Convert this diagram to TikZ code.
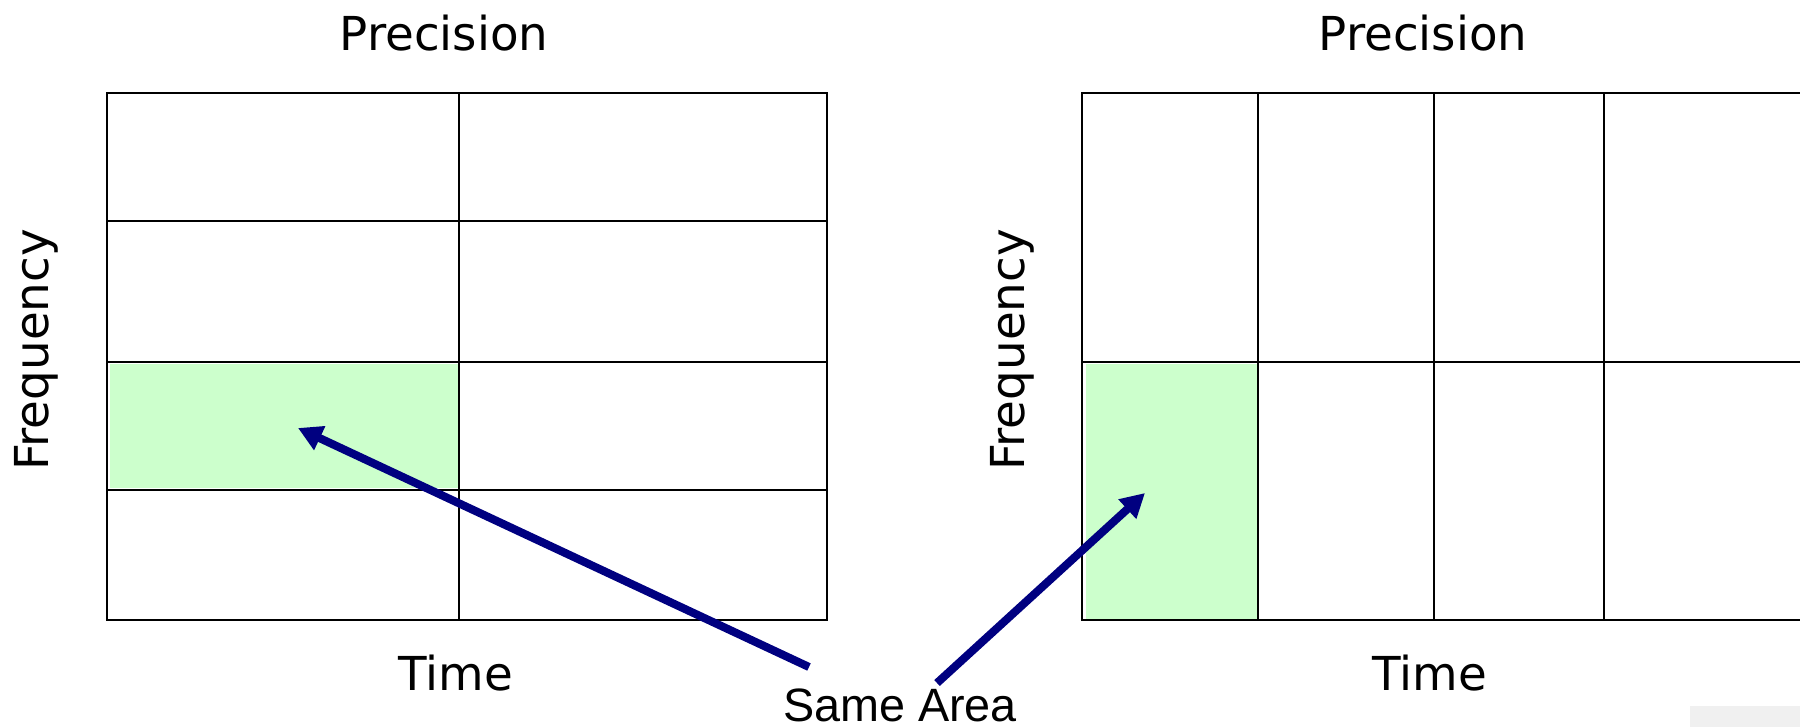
\documentclass[tikz,border=0pt]{standalone}
\usepackage{fontspec}
\setmainfont{DejaVu Sans}
\newfontfamily\arialfont{Liberation Sans}
\usetikzlibrary{arrows.meta}
\definecolor{cellgreen}{RGB}{204,255,204}
\definecolor{arrowblue}{RGB}{0,0,128}
\tikzset{
  lbl/.style={font=\fontsize{13.3pt}{16pt}\selectfont, inner sep=0pt, anchor=base},
  gridline/.style={draw=black, line width=0.6pt},
  frameline/.style={draw=black, line width=0.8pt},
  pointer/.style={draw=arrowblue, line width=2.3pt, -{Triangle[length=0.24cm,width=0.25cm]}},
}
\begin{document}
\begin{tikzpicture}[x=0.01cm,y=-0.01cm]
\useasboundingbox (0,0) rectangle (1800,727);
% faint texture patch bottom right
\fill[gray!12] (1690,706) rectangle (1800,727);
% ---------- left panel ----------
\fill[cellgreen] (110,364) rectangle (459,488);
\draw[gridline] (459,93) -- (459,620);
\draw[gridline] (107,221) -- (827,221);
\draw[gridline] (107,362) -- (827,362);
\draw[gridline] (107,490) -- (827,490);
\draw[frameline] (107,93) rectangle (827,620);
\node[lbl] (precL) at (444,50) {Precision};
\node[lbl] (timeL) at (456,690) {Time};
\node[lbl, rotate=90] (freqL) at (48,350) {Frequency};
% ---------- right panel ----------
\fill[cellgreen] (1086,364) rectangle (1258,620);
\draw[gridline] (1258,93) -- (1258,620);
\draw[gridline] (1434,93) -- (1434,620);
\draw[gridline] (1604,93) -- (1604,620);
\draw[gridline] (1082,362) -- (1802,362);
\draw[frameline] (1802,620) -- (1082,620) -- (1082,93) -- (1802,93);
\node[lbl] (precR) at (1423,50) {Precision};
\node[lbl] (timeR) at (1430,690) {Time};
\node[lbl, rotate=90] (freqR) at (1024,350) {Frequency};
% ---------- label and arrows ----------
\node[lbl, font=\arialfont\fontsize{13.3pt}{16pt}\selectfont] (same) at (900,721) {Same Area};
\coordinate (tailA) at (809,667);
\coordinate (headA) at (298,428);
\coordinate (tailB) at (937,683);
\coordinate (headB) at (1145,493);
\draw[pointer] (tailA) -- (headA);
\draw[pointer] (tailB) -- (headB);
\end{tikzpicture}
\end{document}
